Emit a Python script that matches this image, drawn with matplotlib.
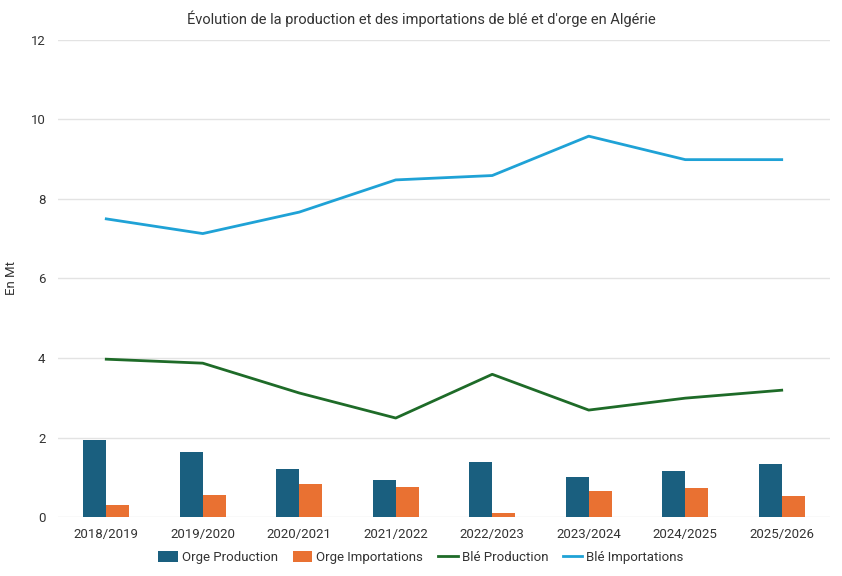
import matplotlib
matplotlib.use("Agg")
import matplotlib.pyplot as plt
import numpy as np

plt.rcParams['font.family'] = ['Roboto', 'DejaVu Sans']

campagnes = ["2018/2019", "2019/2020", "2020/2021", "2021/2022",
             "2022/2023", "2023/2024", "2024/2025", "2025/2026"]
orge_production = [1.94, 1.63, 1.20, 0.93, 1.38, 1.00, 1.17, 1.33]
orge_importations = [0.31, 0.55, 0.82, 0.76, 0.09, 0.65, 0.74, 0.53]
ble_production = [3.97, 3.87, 3.12, 2.49, 3.59, 2.69, 2.99, 3.19]
ble_importations = [7.50, 7.13, 7.67, 8.48, 8.59, 9.58, 8.99, 8.99]

fig = plt.figure(figsize=(8.42, 5.76), dpi=100)
ax = fig.add_axes([0.0689, 0.1024, 0.9168, 0.8282])

x = np.arange(len(campagnes))
w = 0.24
b1 = ax.bar(x - w / 2, orge_production, w, color="#1a5f7f", label="Orge Production", zorder=2)
b2 = ax.bar(x + w / 2, orge_importations, w, color="#e97132", label="Orge Importations", zorder=2)
l1, = ax.plot(x, ble_production, color="#1e6b28", lw=2, label="Blé Production", zorder=3)
l2, = ax.plot(x, ble_importations, color="#1fa2d6", lw=2, label="Blé Importations", zorder=3)

ax.set_xlim(-0.5, len(campagnes) - 0.5)
ax.set_ylim(0, 12)
ax.set_yticks(range(0, 13, 2))
ax.set_xticks(x)
ax.set_xticklabels(campagnes)
ax.tick_params(length=0, labelsize=9.5, colors="#333333", pad=8)
ax.tick_params(axis='y', pad=9)
ax.yaxis.grid(True, color="#e3e3e3", lw=1)
ax.set_axisbelow(True)
for s in ax.spines.values():
    s.set_visible(False)

ax.set_ylabel("En Mt", fontsize=9.5, color="#333333")
ax.yaxis.set_label_coords(-0.052, 0.5)
fig.text(0.5, 0.968, "Évolution de la production et des importations de blé et d'orge en Algérie",
         ha="center", va="center", fontsize=10.5, color="#333333")

fig.legend(handles=[b1, b2, l1, l2], loc="center", bbox_to_anchor=(0.5, 0.032), ncol=4,
           frameon=False, fontsize=9.5, handlelength=1.5, handleheight=0.9,
           columnspacing=1.1, handletextpad=0.3, labelcolor="#333333")

fig.savefig("out.png", dpi=100)
